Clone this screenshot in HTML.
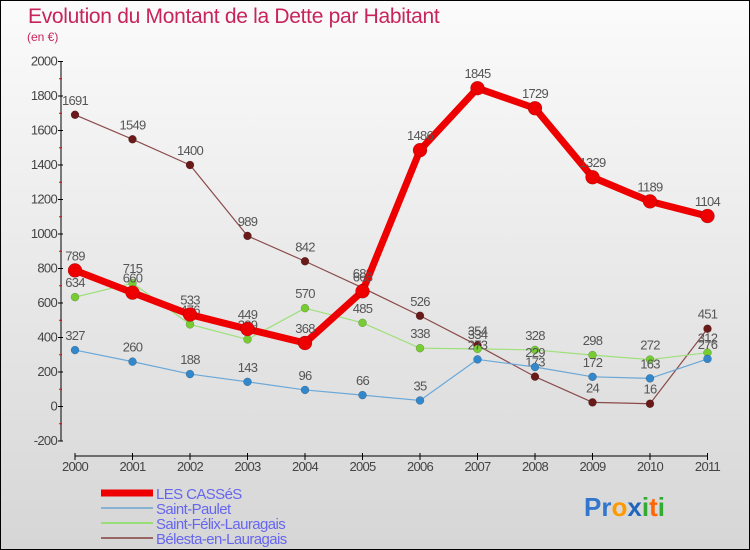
<!DOCTYPE html>
<html><head><meta charset="utf-8"><style>
html,body{margin:0;padding:0}
#wrap{position:relative;width:748px;height:548px;border:1px solid #000;background:linear-gradient(#fbfbfb,#f0f0f0 30%,#d6d6d6);font-family:"Liberation Sans",sans-serif;overflow:hidden}
svg{position:absolute;left:0;top:0}
</style></head><body>
<div id="wrap">
<svg id="c" width="748" height="548">
<text x="27" y="22" font-size="21" fill="#c8245a" letter-spacing="-0.3">Evolution du Montant de la Dette par Habitant</text>
<text x="26" y="40" font-size="12" fill="#c8245a">(en €)</text>
</svg>
</div>
<script>
const years=["2000","2001","2002","2003","2004","2005","2006","2007","2008","2009","2010","2011"];
const yTicks=[-200,0,200,400,600,800,1000,1200,1400,1600,1800,2000];
const cassesVals=[789,660,533,449,368,668,1486,1845,1729,1329,1189,1104];
const paulerVals=[327,260,188,143,96,66,35,273,229,172,163,276];
const felixVals=[634,715,476,389,570,485,338,334,328,298,272,312];
const belestaVals=[1691,1549,1400,989,842,688,526,354,173,24,16,451];
const seriesNames=["LES CASSéS","Saint-Paulet","Saint-Félix-Lauragais","Bélesta-en-Lauragais"];
const NS="http://www.w3.org/2000/svg";
const svg=document.getElementById('c');
function X(i){return 74+i*57.5;}
function Y(v){return 405.5-v*0.1725;}
function mk(t,a,p){const e=document.createElementNS(NS,t);for(const k in a)e.setAttribute(k,a[k]);(p||svg).appendChild(e);return e;}
let ax=mk('line',{x1:60,y1:Y(2000),x2:60,y2:Y(-200),stroke:'#000','stroke-width':1});


let xa=mk('line',{x1:74,y1:455,x2:X(11),y2:455,stroke:'#000','stroke-width':1});


yTicks.forEach((v,i)=>{
  mk('line',{x1:57,y1:Y(v),x2:62,y2:Y(v),stroke:'#000'});
  if(i<yTicks.length-1){mk('line',{x1:58,y1:Y(v+100),x2:61,y2:Y(v+100),stroke:'#e00'});}
  const t=mk('text',{x:56,y:Y(v)+4,'font-size':13,fill:'#444','text-anchor':'end','letter-spacing':'-0.7'});
  t.textContent=v;
  
  
});
years.forEach((y,i)=>{
  mk('line',{x1:X(i),y1:452,x2:X(i),y2:459,stroke:'#000'});
  const t=mk('text',{x:X(i),y:470,'font-size':13,fill:'#444','text-anchor':'middle','letter-spacing':'-0.7'});
  t.textContent=y;
  
  
});
function series(vals,color,dot,w,r,name){
  const g=mk('g',{});
  
  
  mk('polyline',{points:vals.map((v,i)=>X(i)+','+Y(v)).join(' '),fill:'none',stroke:color,'stroke-width':w,'stroke-linejoin':'round'},g);
  vals.forEach((v,i)=>{
    const c=mk('circle',{cx:X(i),cy:Y(v),r:r,fill:dot,stroke:'rgba(0,0,0,0.3)','stroke-width':0.5},g);
    
    
    const t=mk('text',{x:X(i),y:Y(v)-10,'font-size':13,fill:'#555','text-anchor':'middle','letter-spacing':'-0.7'},g);
    t.textContent=v;
    
    
  });
}
series(belestaVals,'#8b4a4a','#6b1a1a',1.2,4,'belesta-series');
series(felixVals,'#9ee07a','#77cc33',1.2,4,'felix-series');
series(paulerVals,'#6aa8d8','#3388cc',1.2,4,'paulet-series');
series(cassesVals,'#ee0000','#ee0000',7,7,'casses-series');
const lc=['#ee0000','#88b0d0','#99dd77','#996666'];
const lw=[7,2,2,2];
seriesNames.forEach((n,i)=>{
  const y=492+i*15;
  const l=mk('line',{x1:100,y1:y,x2:152,y2:y,stroke:lc[i],'stroke-width':lw[i]});
  
  
  const t=mk('text',{x:155,y:y+6,'font-size':15,fill:'#6666ee','letter-spacing':'-0.6'});
  t.textContent=n;
  
  
});
const lg=mk('text',{x:583,y:515,'font-size':26,'font-weight':'bold'});


[['Pr','#3377cc'],['o','#ff9900'],['x','#2266bb'],['i','#33aa33'],['t','#ff6600'],['i','#33aa33']].forEach(p=>{const s=mk('tspan',{fill:p[1]},lg);s.textContent=p[0];});
</script>
</body></html>
